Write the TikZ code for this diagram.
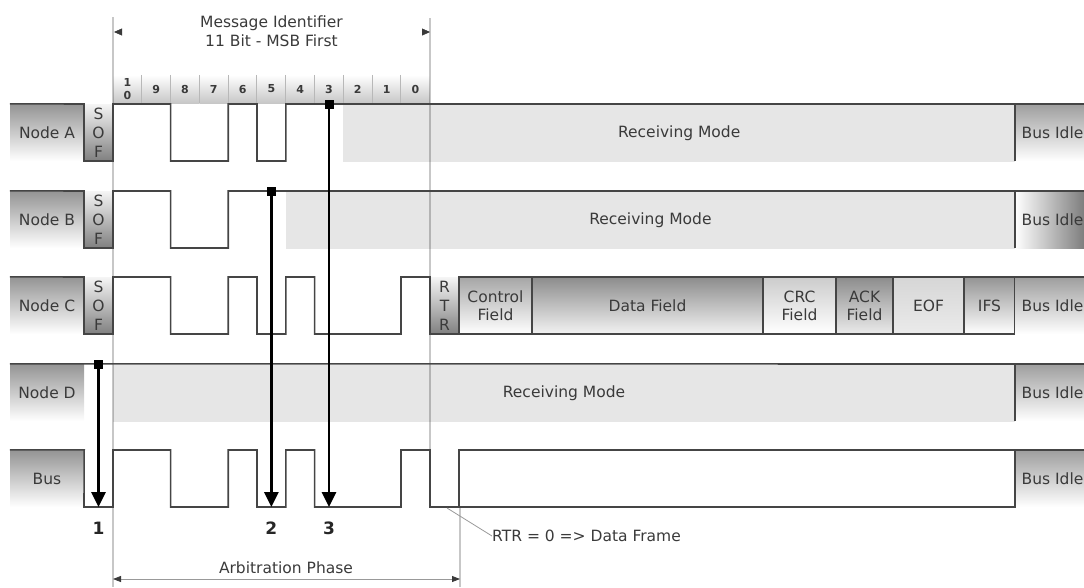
\documentclass[tikz,border=0pt]{standalone}
\usepackage{fontspec}
\setmainfont{DejaVu Sans}
\usetikzlibrary{arrows.meta}
\definecolor{sig}{HTML}{454545}
\definecolor{txt}{HTML}{3A3A3A}
\definecolor{recv}{HTML}{E6E6E6}
\begin{document}
\begin{tikzpicture}[x=1pt,y=-1pt,
  every node/.style={text=txt, inner sep=0pt, font=\fontsize{15.5}{18}\selectfont},
  sigline/.style={draw=sig, line width=1.6pt},
  lbl/.style={minimum width=74pt, minimum height=57pt, top color=black!42, bottom color=white},
  sofbox/.style={minimum width=29pt, minimum height=57pt, top color=black!4, bottom color=black!50, align=center, font=\fontsize{15.5}{19}\selectfont},
  recvbox/.style={fill=recv, minimum height=57pt},
  fieldbox/.style={draw=sig, line width=1.2pt, minimum height=57pt, align=center},
  idlebox/.style={minimum width=75pt, minimum height=57pt, top color=black!38, bottom color=white},
  hdr/.style={minimum width=28.8pt, minimum height=28pt, top color=white, bottom color=black!22, font=\bfseries\fontsize{11}{13}\selectfont, align=center},
  sqmark/.style={fill=black, minimum size=9pt},
  lost/.style={draw=black, line width=2.8pt, -{Triangle[length=15pt,width=14pt]}},
  numlbl/.style={font=\bfseries\fontsize{17}{18}\selectfont, text=black!85},
  guide/.style={draw=black, draw opacity=0.22, line width=1.2pt},
  dim/.style={draw=black!40, line width=0.8pt, {Triangle[length=8pt,width=6pt,color=txt]}-{Triangle[length=8pt,width=6pt,color=txt]}},
  stub/.style={draw=txt, line width=0.4pt, -{Triangle[length=8pt,width=7pt]}},
]
\clip (0,0) rectangle (1084,587);

% ---------- bit header ----------
\node[hdr] (h0) at (127.4,89) {1\\0};
\foreach \i/\t in {1/9,2/8,3/7,4/6,5/5,6/4,7/3,8/2,9/1,10/0}
  \node[hdr] (h\i) at ({113+28.8*(\i+0.5)},89) {\t};
\foreach \i in {1,...,10}
  \draw[black!28, line width=0.8pt] (h\i.north west) -- (h\i.south west);

% ---------- label boxes ----------
\node[lbl] (labA) at (47,132.5) {Node A};
\node[lbl] (labB) at (47,219.5) {Node B};
\node[lbl] (labC) at (47,305.5) {Node C};
\node[lbl] (labD) at (47,392.5) {Node D};
\node[lbl] (labBus) at (47,478.5) {Bus};

% ---------- receiving mode ----------
\node[recvbox, minimum width=671.6pt] (recvA) at (679.2,133) {Receiving Mode};
\node[recvbox, minimum width=729.2pt] (recvB) at (650.4,220) {Receiving Mode};
\node[recvbox, minimum width=902pt] (recvD) at (564,393) {Receiving Mode};

% ---------- SOF / RTR (dominant bits, shaded) ----------
\node[sofbox] (sofA) at (98.5,132.5) {S\\O\\F};
\node[sofbox] (sofB) at (98.5,219.5) {S\\O\\F};
\node[sofbox] (sofC) at (98.5,305.5) {S\\O\\F};
\node[sofbox] (rtr) at (444.5,305.5) {R\\T\\R};

% ---------- node C frame fields ----------
\node[fieldbox, minimum width=73pt, top color=black!35, bottom color=white] (ctrl) at (495.5,305.5) {Control\\Field};
\node[fieldbox, minimum width=231pt, top color=black!45, bottom color=black!5] (data) at (647.5,305.5) {Data Field};
\node[fieldbox, minimum width=73pt, top color=black!20, bottom color=white] (crc) at (799.5,305.5) {CRC\\Field};
\node[fieldbox, minimum width=57pt, top color=black!45, bottom color=black!8] (ack) at (864.5,305.5) {ACK\\Field};
\node[fieldbox, minimum width=71pt, top color=black!16, bottom color=black!8] (eof) at (928.5,305.5) {EOF};
\node[fieldbox, minimum width=51pt, top color=black!42, bottom color=white] (ifs) at (989.5,305.5) {IFS};

% ---------- bus idle ----------
\node[idlebox] (idleA) at (1052.5,132.5) {Bus Idle};
\node[idlebox, left color=white, right color=black!55] (idleB) at (1052.5,219.5) {Bus Idle};
\node[idlebox] (idleC) at (1052.5,305.5) {Bus Idle};
\node[idlebox] (idleD) at (1052.5,392.5) {Bus Idle};
\node[idlebox] (idleBus) at (1052.5,478.5) {Bus Idle};
\foreach \n in {idleA,idleB,idleD,idleBus}
  \draw[sigline] (\n.north west) -- (\n.south west);

% ---------- guide lines ----------
\coordinate (g1a) at (113,17);  \coordinate (g1b) at (113,587);
\coordinate (g2a) at (430,18);  \coordinate (g2b) at (430,507);
\coordinate (g3a) at (460,507); \coordinate (g3b) at (460,587);
\draw[guide] (g1a) -- (g1b);
\draw[guide] (g2a) -- (g2b);
\draw[guide] (g3a) -- (g3b);

% ---------- signals ----------
\draw[sigline] (labA.north west) -- (84,104) -- (84,161) -- (113,161) -- (113,104)
  -- (170.6,104) -- (170.6,161) -- (228.2,161) -- (228.2,104)
  -- (257,104) -- (257,161) -- (285.8,161) -- (285.8,104) -- (1090,104);
\draw[sigline] (labB.north west) -- (84,191) -- (84,248) -- (113,248) -- (113,191)
  -- (170.6,191) -- (170.6,248) -- (228.2,248) -- (228.2,191) -- (1090,191);
\draw[sigline] (labC.north west) -- (84,277) -- (84,334) -- (113,334) -- (113,277)
  -- (170.6,277) -- (170.6,334) -- (228.2,334) -- (228.2,277)
  -- (257,277) -- (257,334) -- (285.8,334) -- (285.8,277) -- (314.6,277) -- (314.6,334)
  -- (401,334) -- (401,277) -- (430,277) -- (430,334) -- (459,334) -- (459,277);
\draw[sigline] (idleC.north west) -- (idleC.north east);
\draw[sigline] (labD.north west) -- (1090,364);
\draw[sigline] (labBus.north west) -- (labBus.north east) -- (84,507) -- (113,507) -- (113,450)
  -- (170.6,450) -- (170.6,507) -- (228.2,507) -- (228.2,450) -- (257,450) -- (257,507)
  -- (285.8,507) -- (285.8,450) -- (314.6,450) -- (314.6,507) -- (401,507) -- (401,450)
  -- (430,450) -- (430,507) -- (459,507) -- (459,450) -- (1090,450);
\draw[sigline] (459,507) -- (1015,507) -- (1015,450);

% ---------- arbitration loss arrows ----------
\node[sqmark] (m1) at (98.5,364) {};
\node[sqmark] (m2) at (271.4,191) {};
\node[sqmark] (m3) at (329,104) {};
\coordinate (t1) at (98.5,507);
\coordinate (t2) at (271.4,507);
\coordinate (t3) at (329,507);
\draw[lost] (m1.center) -- (t1);
\draw[lost] (m2.center) -- (t2);
\draw[lost] (m3.center) -- (t3);
\node[numlbl] (n1) at (98.5,528) {1};
\node[numlbl] (n2) at (271.4,528) {2};
\node[numlbl] (n3) at (329,528) {3};

% ---------- annotations ----------
\node[align=center, font=\fontsize{15.5}{19}\selectfont] (mi) at (271.5,31.5) {Message Identifier\\11 Bit - MSB First};
\coordinate (miL) at (114,32);
\coordinate (miR) at (430,32);
\draw[stub] ([xshift=7pt]miL) -- (miL);
\draw[stub] ([xshift=-7pt]miR) -- (miR);

\coordinate (apL) at (113,579);
\coordinate (apR) at (460,579);
\draw[dim] (apL) -- (apR);
\node (ap) at (286,568) {Arbitration Phase};

\coordinate (rtrP) at (447,508);
\node[anchor=west] (rtrN) at (492,536) {RTR = 0 => Data Frame};
\draw[black!40, line width=0.8pt] (rtrP) -- (rtrN.west);
\end{tikzpicture}
\end{document}
